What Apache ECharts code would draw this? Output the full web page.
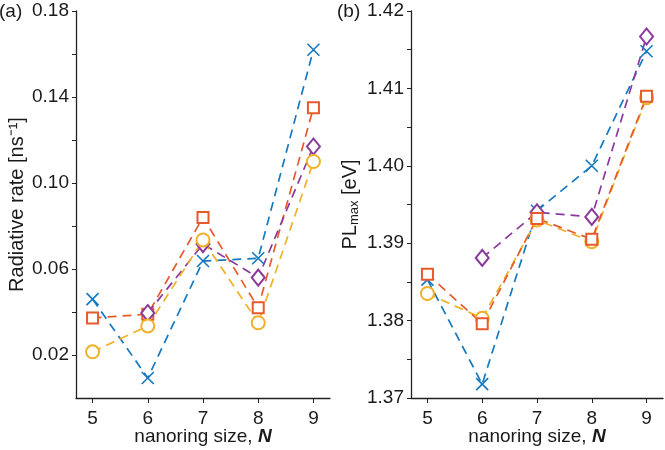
<!DOCTYPE html>
<html>
<head>
<meta charset="utf-8">
<script src="https://cdn.jsdelivr.net/npm/echarts@6/dist/echarts.min.js"></script>
<style>
  html, body { margin: 0; padding: 0; background: #fff; }
  #chart { width: 665px; height: 450px; }
</style>
</head>
<body>
<div id="chart"></div>
<script>
// nanoring size N
const sizes = [5, 6, 7, 8, 9]

// (a) radiative rate [ns^-1]
const rateBlue = [0.046, 0.0093, 0.0637, 0.065, 0.162]
const rateOrange = [0.0372, 0.039, 0.084, 0.042, 0.135]
const ratePurple = [null, 0.0395, 0.0716, 0.056, 0.117]
const rateYellow = [0.0215, 0.0335, 0.0735, 0.035, 0.110]

// (b) PL max [eV]
const plBlue = [1.3853, 1.3718, 1.3942, 1.4000, 1.4148]
const plOrange = [1.3860, 1.3796, 1.3932, 1.3905, 1.4090]
const plPurple = [null, 1.3881, 1.3940, 1.3934, 1.4167]
const plYellow = [1.3835, 1.3803, 1.3930, 1.3902, 1.4088]

// tick labels
const rateLabels = [0.02, 0.06, 0.10, 0.14, 0.18]
const rateTicks = [0.02, 0.04, 0.06, 0.08, 0.10, 0.12, 0.14, 0.16, 0.18]
const plLabels = [1.37, 1.38, 1.39, 1.40, 1.41, 1.42]
const plTicks = [1.37, 1.375, 1.38, 1.385, 1.39, 1.395, 1.40, 1.405, 1.41, 1.415, 1.42]

const BLUE = '#1579c0'
const ORANGE = '#e65a2c'
const YELLOW = '#f0b128'
const PURPLE = '#8b3a9c'
const TXT = '#1a1a1a'
const FONT = 'Liberation Sans, Arial, sans-serif'

const crossPath = 'path://M0,0L10,10M10,0L0,10'

const pairs = (ys) => sizes.map((x, i) => [x, ys[i]]).filter(p => p[1] !== null)

const mkSeries = (ys, color, symbol, size, idx) => ({
  type: 'line',
  xAxisIndex: idx,
  yAxisIndex: idx,
  data: pairs(ys),
  symbol: symbol,
  symbolSize: size,
  showAllSymbol: true,
  lineStyle: { color: color, width: 1.7, type: [9, 6] },
  itemStyle: {
    color: symbol === crossPath ? 'none' : color,
    borderColor: color,
    borderWidth: 1.6
  },
  emphasis: { disabled: true },
  z: 2
})

const xAxisOf = (idx) => ({
  type: 'value',
  gridIndex: idx,
  min: 4.7,
  max: 9.3,
  name: 'nanoring size, {n|N}',
  nameLocation: 'middle',
  nameGap: 29,
  nameMoveOverlap: false,
  nameTextStyle: {
    color: TXT, fontSize: 19, fontFamily: FONT,
    rich: { n: { fontSize: 19, fontWeight: 'bold', fontStyle: 'italic', fontFamily: FONT, color: TXT } }
  },
  axisLine: { lineStyle: { color: '#222', width: 1.3 } },
  axisTick: { customValues: sizes, length: 5, lineStyle: { color: '#222' } },
  axisLabel: { customValues: sizes, color: TXT, fontSize: 19, fontFamily: FONT, margin: 11 },
  splitLine: { show: false }
})

const chart = echarts.init(document.getElementById('chart'))

const option = {
  animation: false,
  backgroundColor: '#fff',
  grid: [
    { left: 76, top: 11, width: 254, height: 387, outerBoundsMode: 'none', containLabel: false },
    { left: 411, top: 11, width: 252, height: 387, outerBoundsMode: 'none', containLabel: false }
  ],
  title: [
    { text: '(a)', left: -6, top: -3, textStyle: { fontSize: 19, fontWeight: 'normal', color: TXT, fontFamily: FONT } },
    { text: '(b)', left: 332, top: -3, textStyle: { fontSize: 19, fontWeight: 'normal', color: TXT, fontFamily: FONT } }
  ],
  xAxis: [xAxisOf(0), xAxisOf(1)],
  yAxis: [
    {
      type: 'value',
      gridIndex: 0,
      min: 0,
      max: 0.18,
      name: 'Radiative rate [ns⁻¹]',
      nameLocation: 'middle',
      nameGap: 49,
      nameMoveOverlap: false,
      nameTextStyle: { color: TXT, fontSize: 20, fontFamily: FONT },
      axisLine: { show: true, lineStyle: { color: '#222', width: 1.3 } },
      axisTick: { show: true, customValues: rateTicks, length: 4, lineStyle: { color: '#222' } },
      axisLabel: { customValues: rateLabels, formatter: v => v.toFixed(2), color: TXT, fontSize: 19, fontFamily: FONT, margin: 7 },
      splitLine: { show: false }
    },
    {
      type: 'value',
      gridIndex: 1,
      min: 1.37,
      max: 1.42,
      name: 'PL{s|max} [eV]',
      nameLocation: 'middle',
      nameGap: 50,
      nameMoveOverlap: false,
      nameTextStyle: {
        color: TXT, fontSize: 20, fontFamily: FONT,
        rich: { s: { fontSize: 13, fontFamily: FONT, color: TXT, verticalAlign: 'bottom', padding: [9, 0, 0, 0] } }
      },
      axisLine: { show: true, lineStyle: { color: '#222', width: 1.3 } },
      axisTick: { show: true, customValues: plTicks, length: 4, lineStyle: { color: '#222' } },
      axisLabel: { customValues: plLabels, formatter: v => v.toFixed(2), color: TXT, fontSize: 19, fontFamily: FONT, margin: 7 },
      splitLine: { show: false }
    }
  ],
  series: [
    mkSeries(rateBlue, BLUE, crossPath, 12, 0),
    mkSeries(rateOrange, ORANGE, 'emptyRect', 11, 0),
    mkSeries(ratePurple, PURPLE, 'emptyDiamond', [13, 16], 0),
    mkSeries(rateYellow, YELLOW, 'emptyCircle', 13, 0),
    mkSeries(plBlue, BLUE, crossPath, 12, 1),
    mkSeries(plPurple, PURPLE, 'emptyDiamond', [13, 16], 1),
    mkSeries(plYellow, YELLOW, 'emptyCircle', 13, 1),
    mkSeries(plOrange, ORANGE, 'emptyRect', 11, 1)
  ]
}

option && chart.setOption(option)
</script>
</body>
</html>
